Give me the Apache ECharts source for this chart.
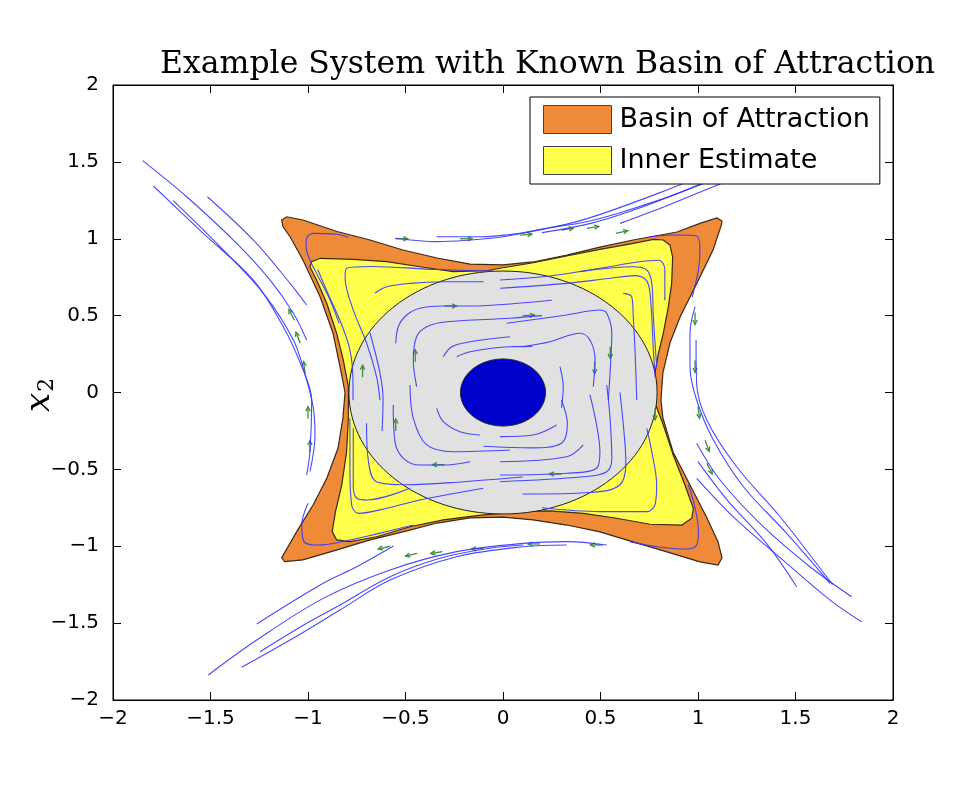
<!DOCTYPE html>
<html>
<head>
<meta charset="utf-8">
<script src="https://cdn.jsdelivr.net/npm/echarts@6/dist/echarts.min.js"></script>
<style>
  html, body { margin: 0; background: #fff; }
  #chart { width: 972px; height: 810px; }
</style>
</head>
<body>
<div id="chart"></div>
<script>
// axis ticks
const xTicks = [-2, -1.5, -1, -0.5, 0, 0.5, 1, 1.5, 2]
const yTicks = [-2, -1.5, -1, -0.5, 0, 0.5, 1, 1.5, 2]

// basin of attraction boundary
const basinX = [0, 0.154, 0.328, 0.497, 0.667, 0.892, 1.01, 1.097, 1.123, 1.12, 1.077, 0.995, 0.908, 0.856, 0.82, 0.81, 0.82, 0.872, 0.959, 1.046, 1.103, 1.123, 1.103, 1.01, 0.841, 0.667, 0.497, 0.328, 0.154, 0, -0.169, -0.338, -0.513, -0.682, -0.851, -1.026, -1.12, -1.135, -1.058, -0.974, -0.903, -0.846, -0.821, -0.81, -0.836, -0.872, -0.938, -1.026, -1.092, -1.128, -1.135, -1.109, -1.026, -0.851, -0.682, -0.513, -0.338, -0.169]
const basinY = [0.83, 0.849, 0.894, 0.946, 0.992, 1.044, 1.10, 1.135, 1.115, 1.09, 0.927, 0.712, 0.491, 0.322, 0.127, -0.05, -0.166, -0.387, -0.602, -0.816, -0.972, -1.076, -1.122, -1.102, -1.037, -0.972, -0.907, -0.862, -0.829, -0.81, -0.816, -0.849, -0.907, -0.959, -1.024, -1.089, -1.10, -1.075, -0.905, -0.732, -0.556, -0.361, -0.166, 0, 0.168, 0.387, 0.623, 0.862, 1.013, 1.078, 1.122, 1.143, 1.122, 1.047, 0.992, 0.927, 0.875, 0.835]

// inner estimate boundary
const innerX = [-0.015, 0.155, 0.326, 0.497, 0.668, 0.771, 0.822, 0.856, 0.87, 0.865, 0.848, 0.822, 0.797, 0.779, 0.774, 0.822, 0.873, 0.933, 0.976, 0.968, 0.917, 0.754, 0.583, 0.412, 0.241, 0.07, -0.015, -0.135, -0.306, -0.477, -0.648, -0.785, -0.853, -0.876, -0.859, -0.827, -0.802, -0.793, -0.793, -0.819, -0.853, -0.904, -0.956, -0.99, -0.981, -0.938, -0.767, -0.596, -0.426, -0.256, -0.084]
const innerY = [0.808, 0.844, 0.888, 0.931, 0.97, 0.996, 0.992, 0.959, 0.883, 0.71, 0.558, 0.385, 0.255, 0.125, -0.049, -0.211, -0.407, -0.602, -0.753, -0.818, -0.862, -0.857, -0.818, -0.786, -0.77, -0.775, -0.786, -0.801, -0.829, -0.873, -0.938, -0.97, -0.959, -0.905, -0.775, -0.602, -0.385, -0.168, 0.038, 0.211, 0.385, 0.58, 0.732, 0.818, 0.851, 0.873, 0.866, 0.851, 0.818, 0.786, 0.792]

// grey disc and blue target disc: [centre x, centre y, radius]
const greyDisc = [0, 0, 0.79]
const blueDisc = [0, 0, 0.218]

// trajectories outside the basin
const outerTrajectories = [
  [[-1.007, 0.341], [-1.075, 0.515], [-1.195, 0.732], [-1.366, 0.97], [-1.622, 1.273], [-1.848, 1.508]],
  [[-1.007, 0.569], [-1.092, 0.71], [-1.281, 0.992], [-1.516, 1.273]],
  [[-1.007, -0.537], [-0.99, -0.385], [-0.981, -0.049], [-1.032, 0.168], [-1.127, 0.428], [-1.281, 0.732], [-1.537, 1.035], [-1.793, 1.343]],
  [[-0.99, -0.515], [-0.964, -0.276], [-0.973, -0.1], [-1.007, 0.081], [-1.075, 0.341], [-1.229, 0.645], [-1.451, 0.948], [-1.691, 1.248]],
  [[0.532, -0.992], [0.327, -0.97], [0.104, -0.981], [-0.237, -1.035], [-0.579, -1.154], [-0.922, -1.339], [-1.263, -1.61], [-1.511, -1.837]],
  [[0.327, -0.992], [0.104, -1.003], [-0.237, -1.068], [-0.579, -1.22], [-0.836, -1.415], [-1.092, -1.61], [-1.34, -1.787]],
  [[0.104, -0.992], [-0.067, -1.013], [-0.323, -1.078], [-0.579, -1.198], [-0.836, -1.382], [-1.007, -1.501], [-1.246, -1.686]],
  [[-0.562, -0.998], [-0.75, -1.133], [-0.922, -1.241], [-1.263, -1.506]],
  [[0.985, 0.558], [0.959, 0.385], [0.959, 0.168], [0.993, -0.049], [1.079, -0.309], [1.233, -0.613], [1.455, -0.916], [1.677, -1.241]],
  [[0.99, 0.341], [0.993, 0.06], [1.045, -0.179], [1.198, -0.483], [1.421, -0.808], [1.69, -1.25]],
  [[0.993, -0.33], [1.113, -0.569], [1.335, -0.873], [1.574, -1.133], [1.788, -1.328]],
  [[0.993, -0.558], [1.198, -0.829], [1.455, -1.111], [1.677, -1.35], [1.839, -1.491]],
  [[1.0, -0.45], [1.15, -0.7], [1.35, -0.98], [1.506, -1.263]],
  [[-0.554, 1.003], [-0.34, 0.981], [-0.169, 0.992], [0.002, 1.013], [0.173, 1.057], [0.344, 1.1], [0.514, 1.165], [0.805, 1.3], [1.1, 1.45], [1.4, 1.6]],
  [[-0.34, 1.013], [-0.118, 1.013], [0.087, 1.035], [0.275, 1.078], [0.429, 1.111], [0.617, 1.176], [0.908, 1.3], [1.2, 1.45], [1.5, 1.62]],
  [[0.2, 1.04], [0.45, 1.1], [0.7, 1.2], [1.0, 1.35], [1.3, 1.52]],
  [[0.6, 1.1], [0.85, 1.22], [1.1, 1.35], [1.4, 1.5]]
]

// trajectories inside the basin
const innerTrajectories = [
  [[-0.84, 0.45], [-0.887, 0.602], [-0.95, 0.76], [-0.99, 0.862], [-1.01, 0.948], [-1.007, 1.003], [-0.973, 1.035], [-0.853, 1.029], [-0.793, 1.01]],
  [[0.754, 1.013], [0.873, 1.024], [0.993, 1.018], [1.01, 0.927], [1.002, 0.797], [0.97, 0.62]],
  [[0.95, -0.6], [0.985, -0.75], [1.002, -0.9], [0.993, -0.992], [0.942, -1.018], [0.788, -1.003], [0.65, -0.97]],
  [[-0.46, -0.862], [-0.785, -0.959], [-0.955, -0.992], [-1.021, -0.97], [-1.032, -0.862], [-1.0, -0.72]],
  [[-0.631, -0.05], [-0.648, 0.1], [-0.699, 0.32], [-0.768, 0.537], [-0.81, 0.75], [-0.8, 0.81], [-0.68, 0.82], [-0.34, 0.8], [-0.05, 0.79]],
  [[-0.769, -0.05], [-0.77, 0.1], [-0.785, 0.277], [-0.83, 0.45], [-0.9, 0.65], [-0.95, 0.8]],
  [[-0.656, 0.647], [-0.596, 0.688], [-0.477, 0.71], [-0.3, 0.72], [-0.1, 0.72]],
  [[-0.55, 0.32], [-0.537, 0.428], [-0.494, 0.504], [-0.426, 0.548], [-0.306, 0.563], [-0.135, 0.563], [0.036, 0.576], [0.25, 0.6]],
  [[-0.443, 0.038], [-0.46, 0.211], [-0.443, 0.363], [-0.391, 0.428], [-0.289, 0.46], [0.036, 0.483], [0.2, 0.5]],
  [[-0.306, 0.233], [-0.263, 0.298], [-0.169, 0.33], [0.036, 0.363]],
  [[-0.237, 0.233], [-0.169, 0.265], [0.036, 0.298], [0.15, 0.3]],
  [[-0.682, 0.387], [-0.631, 0.127], [-0.615, -0.049], [-0.62, -0.25]],
  [[0.019, 0.45], [0.327, 0.504], [0.497, 0.537], [0.532, 0.515], [0.558, 0.385], [0.549, 0.125], [0.54, -0.05]],
  [[0.104, 0.298], [0.241, 0.33], [0.395, 0.385], [0.446, 0.341], [0.472, 0.211], [0.463, 0.038]],
  [[0.292, 0.168], [0.309, 0.038], [0.3, -0.1]],
  [[-0.015, 0.678], [0.327, 0.71], [0.549, 0.743], [0.68, 0.76], [0.74, 0.72], [0.76, 0.55], [0.77, 0.3], [0.78, 0.1]],
  [[0.395, 0.786], [0.668, 0.818], [0.737, 0.797], [0.763, 0.71], [0.771, 0.493], [0.788, 0.168]],
  [[0.617, 0.645], [0.66, 0.623], [0.668, 0.493], [0.677, 0.276], [0.686, -0.049]],
  [[-0.015, 0.732], [0.241, 0.758], [0.497, 0.808], [0.7, 0.85], [0.8, 0.86], [0.83, 0.8], [0.83, 0.6]],
  [[0.446, -0.016], [0.48, -0.211], [0.497, -0.385], [0.48, -0.493], [0.327, -0.525], [-0.015, -0.537]],
  [[0.532, 0.049], [0.549, -0.168], [0.558, -0.428], [0.532, -0.515], [0.412, -0.548], [-0.015, -0.58]],
  [[0.412, -0.341], [0.327, -0.418], [-0.015, -0.45]],
  [[0.275, -0.211], [0.155, -0.276], [-0.015, -0.287]],
  [[0.737, -0.233], [0.763, -0.385], [0.788, -0.602], [0.779, -0.732], [0.737, -0.775], [0.497, -0.775], [0.2, -0.75]],
  [[0.6, 0.0], [0.62, -0.25], [0.63, -0.45], [0.6, -0.6], [0.45, -0.65], [0.1, -0.66]],
  [[0.3, -0.05], [0.33, -0.2], [0.3, -0.33], [0.15, -0.36], [-0.1, -0.35]],
  [[-0.101, -0.623], [-0.426, -0.699], [-0.596, -0.753], [-0.742, -0.786], [-0.776, -0.732], [-0.785, -0.493], [-0.785, -0.168]],
  [[-0.477, -0.623], [-0.699, -0.699], [-0.75, -0.688], [-0.768, -0.602], [-0.768, -0.233]],
  [[-0.169, -0.45], [-0.306, -0.472], [-0.426, -0.472], [-0.511, -0.428], [-0.554, -0.32], [-0.563, -0.081]],
  [[0.036, -0.374], [-0.255, -0.385], [-0.391, -0.341], [-0.46, -0.168], [-0.477, 0.049]],
  [[-0.118, -0.276], [-0.221, -0.255], [-0.306, -0.19], [-0.34, -0.103]],
  [[0.1, -0.55], [-0.2, -0.58], [-0.5, -0.6], [-0.65, -0.58], [-0.69, -0.45], [-0.7, -0.2]]
]

// green direction arrows: position and flow direction
const arrowX = [-1.07, -1.04, -1.015, -1.0, -0.99, -0.58, -0.44, -0.31, -0.1, 0.19, 0.51, 0.985, 0.985, 1.0, 1.036, 1.045, -0.55, -0.22, 0.087, 0.3, 0.43, 0.58, -0.3, 0.1, -0.45, 0.47, 0.3, -0.3, -0.55, 0.55, -0.72, 0.78]
const arrowY = [0.47, 0.32, 0.125, -0.17, -0.39, -1.0, -1.046, -1.035, -1.013, -0.985, -0.992, 0.52, 0.21, -0.09, -0.31, -0.46, 1.0, 1.0, 1.024, 1.057, 1.068, 1.035, 0.563, 0.5, 0.2, 0.2, -0.53, -0.47, -0.25, 0.3, 0.1, -0.1]
const arrowDX = [-0.4, -0.3, -0.1, 0, 0, -1, -1, -1, -1, -1, -1, 0, 0, 0.1, 0.3, 0.4, 1, 1, 1, 1, 1, 1, 1, 1, 0, 0, -1, -1, 0, 0, 0, 0]
const arrowDY = [1, 1, 1, 1, 1, -0.3, -0.3, -0.2, -0.1, 0, 0, -1, -1, -1, -1, -1, 0, 0, 0.1, 0.2, 0.2, 0.3, 0, 0.05, 1, -1, 0, 0, 1, -1, 1, -1]

const chart = echarts.init(document.getElementById('chart'))

const minusFmt = (v) => (v < 0 ? '\u2212' + Math.abs(v) : String(v))

const polygonSeries = (name, xs, ys, fill) => ({
  name,
  type: 'custom',
  coordinateSystem: 'cartesian2d',
  silent: true,
  itemStyle: { color: fill },
  data: xs.map((x, i) => [x, ys[i]]),
  renderItem: (params, api) => {
    if (params.dataIndex !== 0) return
    const pts = xs.map((x, i) => api.coord([x, ys[i]]))
    return {
      type: 'polygon',
      shape: { points: pts },
      style: { fill, stroke: '#3a2a1a', lineWidth: 1.2 },
    }
  },
})

const discSeries = (name, disc, fill) => ({
  name,
  type: 'custom',
  coordinateSystem: 'cartesian2d',
  silent: true,
  data: [disc],
  renderItem: (params, api) => {
    const c = api.coord([api.value(0), api.value(1)])
    const e = api.coord([api.value(0) + api.value(2), api.value(1) + api.value(2)])
    return {
      type: 'ellipse',
      shape: { cx: c[0], cy: c[1], rx: e[0] - c[0], ry: c[1] - e[1] },
      style: { fill, stroke: '#222', lineWidth: 1 },
    }
  },
})

const trajSeries = (list, tag) =>
  list.map((pts, i) => ({
    name: tag + i,
    type: 'line',
    data: pts,
    showSymbol: false,
    smooth: 0.35,
    silent: true,
    lineStyle: { color: '#3535ff', width: 1.1, opacity: 0.9 },
  }))

const boxAxis = {
  axisLine: { onZero: false, lineStyle: { color: '#000' } },
  axisTick: { inside: true, length: 8, lineStyle: { color: '#000' } },
  splitLine: { show: false },
}

const option = {
  backgroundColor: '#fff',
  animation: false,
  title: {
    text: 'Example System with Known Basin of Attraction',
    left: 155,
    top: 44,
    textStyle: { fontFamily: 'DejaVu Serif', fontSize: 31.5, fontWeight: 'normal', color: '#000' },
  },
  graphic: [
    {
      type: 'text',
      x: 22,
      y: 412,
      rotation: Math.PI / 2,
      style: {
        text: '{a|x}{b|2}',
        rich: {
          a: { fontFamily: 'DejaVu Serif', fontStyle: 'italic', fontSize: 34, fill: '#000' },
          b: { fontFamily: 'DejaVu Serif', fontSize: 22, fill: '#000', verticalAlign: 'bottom', padding: [14, 0, 0, 1] },
        },
      },
    },
  ],
  legend: {
    orient: 'vertical',
    left: 530,
    top: 97,
    z: 10,
    padding: [8, 10, 9, 13],
    itemGap: 12,
    itemWidth: 68,
    itemHeight: 28,
    backgroundColor: '#fff',
    borderColor: '#000',
    borderWidth: 1,
    textStyle: { fontFamily: 'DejaVu Sans', fontSize: 27, color: '#000', padding: [0, 0, 0, 3] },
    data: [
      { name: 'Basin of Attraction', icon: 'rect', itemStyle: { color: '#ef8a38', borderColor: '#444', borderWidth: 1 } },
      { name: 'Inner Estimate', icon: 'rect', itemStyle: { color: '#ffff4d', borderColor: '#444', borderWidth: 1 } },
    ],
  },
  grid: {
    left: 113, right: 79, top: 85, bottom: 110,
    outerBoundsMode: 'none',
    show: true, borderColor: '#000', borderWidth: 1,
  },
  xAxis: [
    {
      type: 'value',
      min: xTicks[0],
      max: xTicks[xTicks.length - 1],
      interval: xTicks[1] - xTicks[0],
      ...boxAxis,
      axisLabel: { formatter: minusFmt, color: '#000', fontFamily: 'DejaVu Sans', fontSize: 20, margin: 9 },
    },
    {
      type: 'value',
      position: 'top',
      min: xTicks[0],
      max: xTicks[xTicks.length - 1],
      interval: xTicks[1] - xTicks[0],
      ...boxAxis,
      axisLabel: { show: false },
    },
  ],
  yAxis: [
    {
      type: 'value',
      min: yTicks[0],
      max: yTicks[yTicks.length - 1],
      interval: yTicks[1] - yTicks[0],
      ...boxAxis,
      axisLabel: { formatter: minusFmt, color: '#000', fontFamily: 'DejaVu Sans', fontSize: 20, margin: 14 },
    },
    {
      type: 'value',
      position: 'right',
      min: yTicks[0],
      max: yTicks[yTicks.length - 1],
      interval: yTicks[1] - yTicks[0],
      ...boxAxis,
      axisLabel: { show: false },
    },
  ],
  series: [
    polygonSeries('Basin of Attraction', basinX, basinY, '#ef8a38'),
    polygonSeries('Inner Estimate', innerX, innerY, '#ffff4d'),
    discSeries('grey', greyDisc, '#e1e1e1'),
    discSeries('target', blueDisc, '#0000cc'),
    ...trajSeries(outerTrajectories, 'out'),
    ...trajSeries(innerTrajectories, 'in'),
    {
      name: 'arrows',
      type: 'custom',
      coordinateSystem: 'cartesian2d',
      silent: true,
      data: arrowX.map((x, i) => [x, arrowY[i], arrowDX[i], arrowDY[i]]),
      renderItem: (params, api) => {
        const p = api.coord([api.value(0), api.value(1)])
        const q = api.coord([api.value(0) + api.value(2) * 0.1, api.value(1) + api.value(3) * 0.1])
        const a = Math.atan2(q[1] - p[1], q[0] - p[0])
        const len = 12
        const head = 5
        const tip = [p[0] + len * Math.cos(a), p[1] + len * Math.sin(a)]
        const w1 = [tip[0] - head * Math.cos(a - 0.45), tip[1] - head * Math.sin(a - 0.45)]
        const w2 = [tip[0] - head * Math.cos(a + 0.45), tip[1] - head * Math.sin(a + 0.45)]
        const style = { stroke: '#3f8f3f', lineWidth: 1.3, fill: 'none' }
        return {
          type: 'group',
          children: [
            { type: 'polyline', shape: { points: [p, tip] }, style },
            { type: 'polyline', shape: { points: [w1, tip, w2] }, style },
          ],
        }
      },
    },
  ],
}

chart.setOption(option)
window.addEventListener('resize', () => chart.resize())
</script>
</body>
</html>
